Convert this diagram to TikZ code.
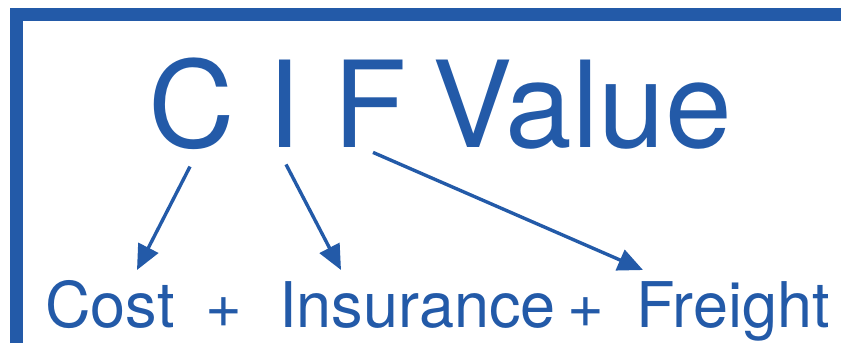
\documentclass[tikz,border=0pt]{standalone}
\usepackage{fontspec}
\setmainfont{TeX Gyre Heros}
\usetikzlibrary{arrows.meta,calc}
\definecolor{cifblue}{RGB}{35,90,168}

\begin{document}
\begin{tikzpicture}[x=0.5pt,y=-0.5pt,
  big/.style={anchor=base,inner sep=0pt,text=cifblue,font=\fontsize{60}{60}\selectfont},
  small/.style={anchor=base west,inner sep=0pt,text=cifblue,font=\fontsize{31.5}{31.5}\selectfont},
  arr/.style={draw=cifblue,line width=1.7pt,-{Triangle[length=12.5pt,width=11pt]}}]
  \useasboundingbox (0,0) rectangle (841,343);
  \draw[cifblue,line width=6.5pt] (16.5,343) -- (16.5,14) -- (841,14);
  % title letters
  \node (C) [big] at (192,147) {C};
  \node (I) [big] at (284,147) {I};
  \node (F) [big] at (370,147) {F};
  \node (V) [big,anchor=base west] at (432,147) {Value};
  % the three words
  \node (cost) [small] at (45,327) {Cost};
  \node (plusA) [small,anchor=base] at (224,327) {+};
  \node (ins) [small] at (279,327) {Insurance};
  \node (plusB) [small,anchor=base] at (586,327) {+};
  \node (frt) [small] at (636,327) {Freight};
  \draw[arr] ($(C.south)+(-2,17)$) -- ($(cost.base west)+(92,-57)$);
  \draw[arr] ($(I.south)+(2,17)$) -- ($(ins.base west)+(62,-57)$);
  \draw[arr] ($(F.south)+(3,5)$) -- ($(frt.base west)+(7,-57)$);
\end{tikzpicture}
\end{document}
